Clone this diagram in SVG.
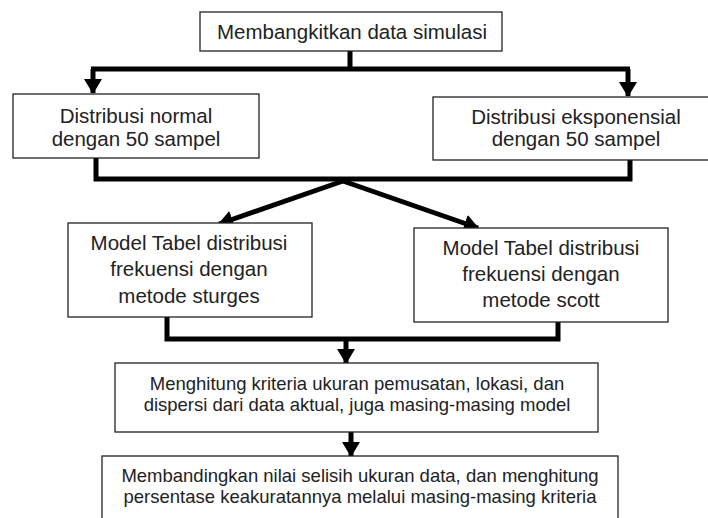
<svg xmlns="http://www.w3.org/2000/svg" width="708" height="518" viewBox="0 0 708 518">
<defs>
<marker id="ah" markerUnits="userSpaceOnUse" markerWidth="15" markerHeight="18" viewBox="0 0 15 18" refX="14" refY="9" orient="auto">
<path d="M0,0 L15,9 L0,18 Z" fill="#000"/>
</marker>
<style>
.box{fill:#fff;stroke:#222;stroke-width:1.3}
.t{font-family:"Liberation Sans",Arial,sans-serif;font-size:20.5px;fill:#222;text-anchor:middle}
.s{font-size:18.5px}
.c{fill:none;stroke:#000;stroke-width:5;stroke-linejoin:miter}
</style>
</defs>
<rect width="708" height="518" fill="#fff"/>
<g id="connectors">
<path class="c" d="M350,51 V69 M91,69 H630"/>
<path class="c" d="M93,69 V93" marker-end="url(#ah)"/>
<path class="c" d="M628,69 V96" marker-end="url(#ah)"/>
<path class="c" d="M96,158 V179 H630 V160"/>
<path class="c" d="M343,181 L219,224" marker-end="url(#ah)"/>
<path class="c" d="M343,181 L478,228" marker-end="url(#ah)"/>
<path class="c" d="M167,317 V339 H558 V322"/>
<path class="c" d="M346,339 V363" marker-end="url(#ah)"/>
<path class="c" d="M351,432 V456" marker-end="url(#ah)"/>
</g>
<g id="n1"><rect class="box" x="200" y="12" width="302" height="39"/><text class="t" x="352" y="39">Membangkitkan data simulasi</text></g>
<g id="n2"><rect class="box" x="13" y="94" width="246" height="64"/><text class="t" x="136" y="123">Distribusi normal</text><text class="t" x="136" y="146">dengan 50 sampel</text></g>
<g id="n3"><rect class="box" x="433" y="97" width="286" height="63"/><text class="t" x="576" y="124">Distribusi eksponensial</text><text class="t" x="576" y="146">dengan 50 sampel</text></g>
<g id="n4"><rect class="box" x="68" y="223" width="244" height="94"/><text class="t" x="189" y="250">Model Tabel distribusi</text><text class="t" x="189" y="276">frekuensi dengan</text><text class="t" x="189" y="303">metode sturges</text></g>
<g id="n5"><rect class="box" x="414" y="228" width="254" height="94"/><text class="t" x="541" y="255">Model Tabel distribusi</text><text class="t" x="541" y="281">frekuensi dengan</text><text class="t" x="541" y="307">metode scott</text></g>
<g id="n6"><rect class="box" x="115" y="363" width="483" height="69"/><text class="t s" x="357" y="390">Menghitung kriteria ukuran pemusatan, lokasi, dan</text><text class="t s" x="357" y="411">dispersi dari data aktual, juga masing-masing model</text></g>
<g id="n7"><rect class="box" x="102" y="456" width="516" height="80"/><text class="t s" x="360" y="482">Membandingkan nilai selisih ukuran data, dan menghitung</text><text class="t s" x="360" y="503">persentase keakuratannya melalui masing-masing kriteria</text></g>
</svg>
